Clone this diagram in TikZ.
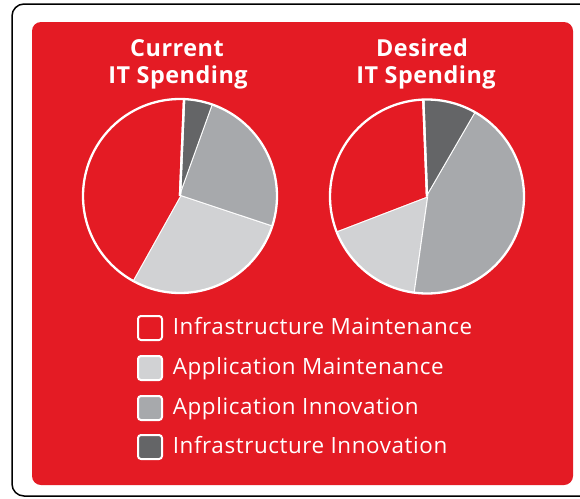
\documentclass[tikz,border=0pt]{standalone}
\usepackage{fontspec}
\setmainfont{Open Sans}
\newfontfamily\legfont[LetterSpace=2.6]{Open Sans}
\newfontfamily\titfont[LetterSpace=2.2]{Open Sans}
\definecolor{bgred}{RGB}{228,27,36}
\definecolor{lgray}{RGB}{209,210,212}
\definecolor{mgray}{RGB}{167,169,172}
\definecolor{dgray}{RGB}{100,101,103}
\tikzset{
  slice/.style={draw=white, line width=2.3pt, line join=round},
  title/.style={text=white, font=\titfont\bfseries\fontsize{23.4}{26}\selectfont, anchor=base, inner sep=0pt},
  legtext/.style={text=white, font=\legfont\fontsize{22.4}{25}\selectfont, anchor=base west, inner sep=0pt},
  legbox/.style={draw=white, line width=2pt, rounded corners=3pt, minimum width=24pt, minimum height=24pt, inner sep=0pt},
}
\newcommand{\pieslice}[4]{% color, start, end, radius
  \fill[#1] (0,0) -- (#2:#4) arc[start angle=#2, end angle=#3, radius=#4] -- cycle;
  \draw[slice] (0,0) -- (#2:#4);
}
\begin{document}
\begin{tikzpicture}[x=1pt,y=-1pt]
\useasboundingbox (0,0) rectangle (580,498);
\fill[white] (0,0) rectangle (580,498);
\draw[line width=1.5pt, rounded corners=12pt] (12,4) rectangle (620,496);
\fill[bgred, rounded corners=9pt] (32,22) rectangle (573,485);
% titles
\node[title] (t1a) at (177,56.7) {Current};
\node[title] (t1b) at (178,83.3) {IT Spending};
\node[title] (t2a) at (422,56.7) {Desired};
\node[title] (t2b) at (426,83.3) {IT Spending};
% current pie
\begin{scope}[shift={(180,196)}, yscale=-1]
  \pieslice{dgray}{70.2}{87.6}{97}
  \pieslice{mgray}{-18.4}{70.2}{97}
  \pieslice{lgray}{-119.2}{-18.4}{97}
  \pieslice{bgred}{87.6}{240.8}{97}
  \draw[slice] (0,0) -- (87.6:97);
  \draw[slice] (0,0) circle[radius=97];
\end{scope}
% desired pie
\begin{scope}[shift={(427,196.5)}, yscale=-1]
  \pieslice{dgray}{59.9}{92.2}{97}
  \pieslice{mgray}{-98}{59.9}{97}
  \pieslice{lgray}{-159}{-98}{97}
  \pieslice{bgred}{92.2}{201}{97}
  \draw[slice] (0,0) -- (92.2:97);
  \draw[slice] (0,0) circle[radius=97];
\end{scope}
% legend
\node[legbox, fill=bgred] (b1) at (150,328) {};
\node[legbox, fill=lgray] (b2) at (150,368) {};
\node[legbox, fill=mgray] (b3) at (150,408) {};
\node[legbox, fill=dgray] (b4) at (150,447) {};
\node[legtext] (l1) at (172.7,334.5) {Infrastructure Maintenance};
\node[legtext] (l2) at (172.7,374.5) {Application Maintenance};
\node[legtext] (l3) at (172.7,414.5) {Application Innovation};
\node[legtext] (l4) at (172.7,453.5) {Infrastructure Innovation};
\end{tikzpicture}
\end{document}
